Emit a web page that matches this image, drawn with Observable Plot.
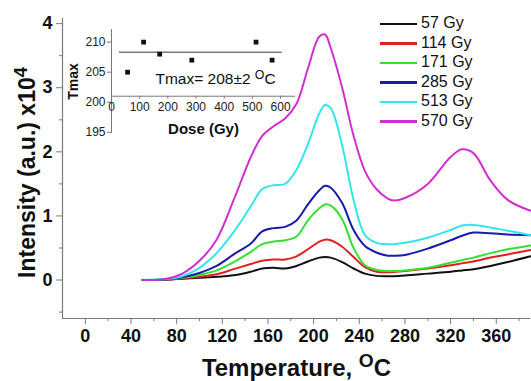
<!DOCTYPE html>
<html><head><meta charset="utf-8">
<script src="https://cdn.jsdelivr.net/npm/d3@7"></script>
<script src="https://cdn.jsdelivr.net/npm/@observablehq/plot@0.6"></script>
<style>
body{margin:0;background:#fff}
#wrap{position:relative;width:531px;height:381px;font-family:"Liberation Sans",Arial,sans-serif;background:#fff}
#wrap svg{position:absolute}
#legend{position:absolute;left:380px;top:13px;font-size:16px;color:#111}
#legend .row{height:19.5px;line-height:19.5px;white-space:nowrap}
#legend .sw{display:inline-block;width:37px;height:2.5px;vertical-align:middle;margin-right:4px}
</style>
</head><body><div id="wrap"></div>
<script>
// ---- data ----
const temperature = [50,70,85,100,115,130,145,155,165,175,185,195,205,210,215,225,235,245,255,265,270,280,300,320,330,340,355,370,390];
const doses = ["57 Gy","114 Gy","171 Gy","285 Gy","513 Gy","570 Gy"];
const colors = ["#111111","#e0201e","#33e033","#1a1aa8","#33e6ee","#d030d0"];
const i57  = [0,0.005,0.02,0.035,0.05,0.075,0.13,0.18,0.19,0.18,0.22,0.29,0.35,0.36,0.35,0.28,0.18,0.1,0.065,0.06,0.06,0.07,0.1,0.13,0.15,0.17,0.22,0.28,0.37];
const i114 = [0,0.005,0.025,0.05,0.09,0.17,0.25,0.3,0.32,0.32,0.37,0.48,0.6,0.63,0.62,0.52,0.36,0.2,0.13,0.12,0.125,0.14,0.18,0.23,0.26,0.29,0.35,0.4,0.47];
const i171 = [0,0.008,0.035,0.08,0.15,0.28,0.44,0.56,0.6,0.62,0.68,0.93,1.12,1.18,1.16,0.95,0.5,0.23,0.16,0.14,0.14,0.15,0.19,0.27,0.31,0.35,0.42,0.48,0.54];
const i285 = [0,0.01,0.045,0.11,0.22,0.4,0.57,0.76,0.81,0.83,0.93,1.18,1.4,1.47,1.44,1.2,0.78,0.53,0.43,0.38,0.38,0.39,0.49,0.62,0.69,0.74,0.73,0.71,0.7];
const i513 = [0,0.015,0.06,0.19,0.42,0.75,1.15,1.42,1.48,1.5,1.72,2.12,2.6,2.73,2.68,2.1,1.25,0.7,0.58,0.56,0.56,0.58,0.66,0.78,0.85,0.86,0.82,0.77,0.7];
const i570 = [0,0.015,0.1,0.3,0.63,1.25,1.92,2.25,2.4,2.52,2.75,3.3,3.8,3.83,3.62,3.0,2.25,1.7,1.42,1.27,1.24,1.28,1.5,1.92,2.04,1.98,1.55,1.25,1.08];
const seriesValues = [i57,i114,i171,i285,i513,i570];
const tempTicks = [0,40,80,120,160,200,240,280,320,360];
const tempMinorTicks = [20,60,100,140,180,220,260,300,340,380];
const intensityTicks = [0,1,2,3,4];
const intensityMinorTicks = [-0.5,0.5,1.5,2.5,3.5];
const xDomain = [-20,390];
const yDomain = [-0.6,4.08];
// inset
const doseGy = [57,114,171,285,513,570];
const tmax = [205,210,208,207,210,207];
const tmaxMean = 208.3;
const doseTicks = [0,100,200,300,400,500,600];
const tmaxTicks = [195,200,205,210];
const doseDomain = [0,653];
const tmaxDomain = [194.8,212.1];
const insetBaseline = 201;

const FONT = '"Liberation Sans", Arial, sans-serif';
const AXIS = "#7a7a7a";
const rows = [];
seriesValues.forEach((vals,k)=>vals.forEach((v,i)=>rows.push({T:temperature[i], I:v, dose:doses[k]})));
const doseTickRows = doseTicks.map(d=>({dose:d, base:insetBaseline, low:insetBaseline-0.5}));
const points = doseGy.map((d,i)=>({dose:d, t:tmax[i]}));

const main = Plot.plot({
  width:531, height:381, marginLeft:62, marginRight:1, marginTop:18, marginBottom:63,
  style:{fontFamily:FONT, background:"transparent", overflow:"visible"},
  x:{domain:xDomain}, y:{domain:yDomain},
  color:{domain:doses, range:colors},
  marks:[
    Plot.ruleX([xDomain[0]],{stroke:AXIS, strokeWidth:1.2}),
    Plot.ruleY([yDomain[0]],{stroke:AXIS, strokeWidth:1.2}),
    Plot.axisY(intensityTicks,{tickSize:6, tickPadding:4, fontSize:18, fontWeight:"bold", stroke:AXIS, fill:"#111", label:null, tickFormat:d=>String(d)}),
    Plot.axisY(intensityMinorTicks,{tickSize:3, text:null, stroke:AXIS, label:null}),
    Plot.axisX(tempTicks,{tickSize:6, tickPadding:5, fontSize:18, fontWeight:"bold", stroke:AXIS, fill:"#111", label:null, tickFormat:d=>String(d)}),
    Plot.axisX(tempMinorTicks,{tickSize:3, text:null, stroke:AXIS, label:null}),
    Plot.line(rows,{x:"T", y:"I", stroke:"dose", z:"dose", strokeWidth:2, curve:"catmull-rom"}),
    Plot.text(["Intensity (a.u.) x10^4"],{frameAnchor:"left", textAnchor:"middle", rotate:-90, dx:-35, dy:4, fontSize:23, fontWeight:"bold", fill:"#111"}),
    Plot.text(["Temperature, ^OC"],{frameAnchor:"bottom", textAnchor:"middle", dy:50, lineAnchor:"middle", fontSize:24, fontWeight:"bold", fill:"#111"})
  ]
});
main.style.left="0px"; main.style.top="0px";

const inset = Plot.plot({
  width:250, height:140, marginLeft:61, marginRight:5, marginTop:19, marginBottom:17,
  style:{fontFamily:FONT, background:"transparent", overflow:"visible"},
  x:{domain:doseDomain, axis:null}, y:{domain:tmaxDomain, axis:null},
  marks:[
    Plot.ruleX([doseDomain[0]],{stroke:AXIS}),
    Plot.axisY(tmaxTicks,{tickSize:4, tickPadding:2, fontSize:12, stroke:AXIS, fill:"#222", label:null}),
    Plot.ruleY(doseTickRows.slice(0,1),{y:"base", stroke:AXIS}),
    Plot.ruleX(doseTickRows,{x:"dose", y1:"base", y2:"low", stroke:AXIS}),
    Plot.text(doseTickRows,{x:"dose", y:"base", dy:11, text:d=>String(d.dose), fontSize:12, fill:"#222"}),
    Plot.ruleY([tmaxMean],{x1:28, x2:606, stroke:AXIS, strokeWidth:1.5}),
    Plot.dot(points,{x:"dose", y:"t", symbol:"square", fill:"#111", r:2.7}),
    Plot.text(["Tmax= 208±2 ^OC"],{x:156, y:203.8, textAnchor:"start", fontSize:15.5, fill:"#111"}),
    Plot.text(["Dose (Gy)"],{frameAnchor:"bottom", lineAnchor:"bottom", dy:0, fontSize:15, fontWeight:"bold", fill:"#111"}),
    Plot.text(["Tmax"],{frameAnchor:"left", textAnchor:"middle", rotate:-90, dx:-38, fontSize:14, fontWeight:"bold", fill:"#111"})
  ]
});
inset.style.left="50px"; inset.style.top="10px";

function supify(svg){
  d3.select(svg).selectAll("text").each(function(){
    const t = this.textContent;
    if (!t || !t.includes("^")) return;
    const parts = t.split(/\^(.)/);
    const sel = d3.select(this); sel.text(null);
    parts.forEach((p,i)=>{
      if (!p) return;
      const ts = sel.append("tspan").text(p);
      if (i%2===1) ts.attr("font-size","80%").attr("baseline-shift","45%");
    });
  });
}
supify(main); supify(inset);

const wrap = document.getElementById("wrap");
wrap.appendChild(main);
wrap.appendChild(inset);

const legend = document.createElement("div");
legend.id = "legend";
doses.forEach((d,k)=>{
  const r = document.createElement("div"); r.className="row";
  const sw = document.createElement("span"); sw.className="sw"; sw.style.background=colors[k];
  r.appendChild(sw); r.appendChild(document.createTextNode(d));
  legend.appendChild(r);
});
wrap.appendChild(legend);
</script>
</body></html>
